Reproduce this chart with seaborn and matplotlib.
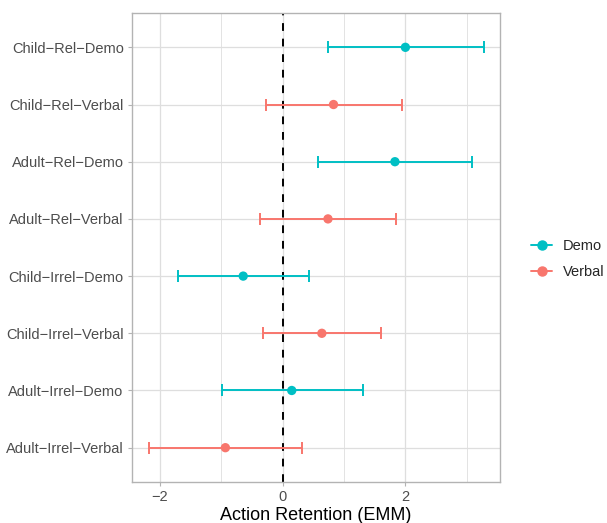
import pandas as pd
import seaborn as sns
import matplotlib.pyplot as plt
from matplotlib.lines import Line2D

# data
contrasts = ['Child−Rel−Demo', 'Child−Rel−Verbal', 'Adult−Rel−Demo', 'Adult−Rel−Verbal',
             'Child−Irrel−Demo', 'Child−Irrel−Verbal', 'Adult−Irrel−Demo', 'Adult−Irrel−Verbal']
modality = ['Demo', 'Verbal', 'Demo', 'Verbal', 'Demo', 'Verbal', 'Demo', 'Verbal']
emm = [2.00, 0.83, 1.83, 0.74, -0.64, 0.64, 0.15, -0.93]
lower = [0.745, -0.27, 0.58, -0.37, -1.70, -0.32, -0.98, -2.17]
upper = [3.28, 1.94, 3.08, 1.85, 0.43, 1.60, 1.31, 0.31]

palette = {'Demo': '#00BFC4', 'Verbal': '#F8766D'}

df = pd.DataFrame({'Contrast': contrasts, 'Modality': modality,
                   'EMM': emm, 'lower': lower, 'upper': upper})

sns.set_theme(style="whitegrid")
plt.rcParams['font.family'] = ['Liberation Sans', 'DejaVu Sans']

fig = plt.figure(figsize=(6.07, 5.23), dpi=100)
ax = fig.add_axes([132 / 607, 1 - 482 / 523, 368 / 607, 469 / 523])

# grid like ggplot theme_light (major + minor)
for v in [-2, -1, 0, 1, 2, 3]:
    ax.axvline(v, color='#DEDEDE', linewidth=0.9 if v % 2 == 0 else 0.6, zorder=0)

ax.axvline(0, color='black', linestyle=(0, (4, 4)), linewidth=1.4, zorder=1)

for i, row in df.iterrows():
    ax.errorbar(x=row['EMM'], y=i,
                xerr=[[row['EMM'] - row['lower']], [row['upper'] - row['EMM']]],
                fmt='none', ecolor=palette[row['Modality']], elinewidth=1.4,
                capsize=4.3, capthick=1.4, zorder=2)

sns.scatterplot(data=df, x='EMM', y='Contrast', hue='Modality', palette=palette,
                s=45, edgecolor='none', legend=False, ax=ax, zorder=3)

ax.set_xlim(-2.45, 3.54)
ax.set_ylim(7.6, -0.6)
ax.set_xticks([-2, 0, 2])
ax.set_xticklabels(['−2', '0', '2'])
ax.grid(axis='x', visible=False)
ax.grid(axis='y', color='#DEDEDE', linewidth=0.9)
ax.set_axisbelow(True)

for s in ax.spines.values():
    s.set_color('#B3B3B3')
    s.set_linewidth(1.0)

ax.tick_params(axis='both', which='major', length=3, width=0.8, color='#B3B3B3',
               labelsize=10.5, labelcolor='#4D4D4D', pad=3, left=True, bottom=True)
ax.set_xlabel('Action Retention (EMM)', fontsize=13, color='black', labelpad=2)
ax.set_ylabel('')

handles = [Line2D([0], [0], color=palette[m], marker='o', markersize=6.5, linewidth=1.4,
                  label=m) for m in ['Demo', 'Verbal']]
fig.legend(handles=handles, loc='center left', bbox_to_anchor=(518 / 607, 1 - 259 / 523),
           frameon=False, fontsize=10.5, handlelength=1.45, labelspacing=0.8,
           handletextpad=0.75, borderaxespad=0.5)

plt.savefig('out.png', dpi=100)
